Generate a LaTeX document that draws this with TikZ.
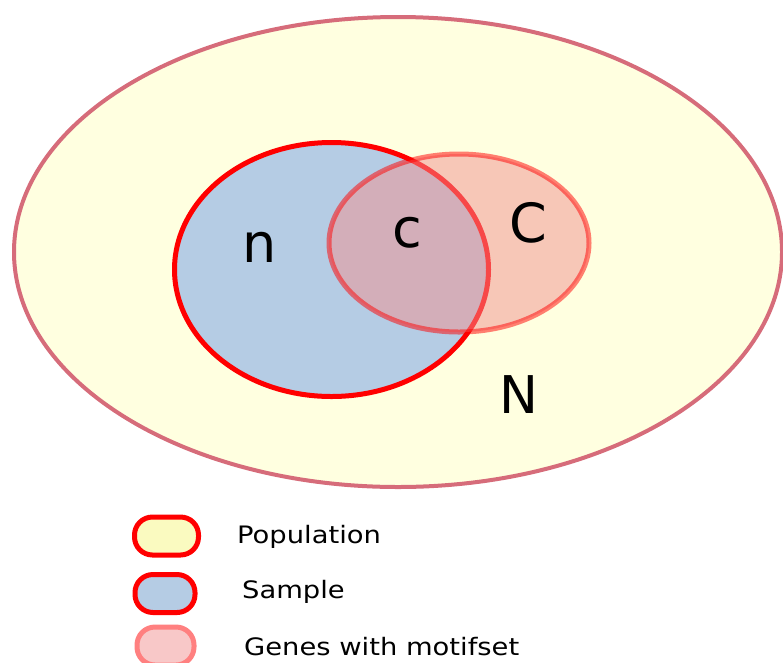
\documentclass[tikz,border=0pt]{standalone}
\usepackage{fontspec}
\setmainfont{DejaVu Sans}
\newfontfamily\widesans[FakeStretch=1.14]{DejaVu Sans}
\definecolor{popfill}{RGB}{255,255,224}
\definecolor{popedge}{RGB}{214,108,122}
\definecolor{popswatch}{RGB}{250,250,192}
\definecolor{samplefill}{RGB}{181,204,228}
\definecolor{motiffill}{RGB}{241,145,144}
\definecolor{motifswatch}{RGB}{248,200,200}
\definecolor{motifedge}{RGB}{255,128,128}
\tikzset{
  setlabel/.style={font=\fontsize{54}{60}\selectfont, anchor=base, inner sep=0pt},
  legendtext/.style={font=\widesans\fontsize{24}{28}\selectfont, anchor=base west, inner sep=0pt},
  swatch/.style={rounded corners=18pt, line width=5pt, minimum width=62pt, minimum height=38pt, inner sep=0pt},
}
\begin{document}
\begin{tikzpicture}[x=1pt, y=-1pt]
\useasboundingbox (0,0) rectangle (783,662);
% population
\filldraw[fill=popfill, draw=popedge, line width=4pt] (398,252) ellipse [x radius=384, y radius=235];
% sample
\filldraw[fill=samplefill, draw=red, line width=5pt] (331.5,269.5) ellipse [x radius=157, y radius=127];
% genes with motifset, semi-transparent over the sample
\filldraw[fill=motiffill, draw=red, line width=5pt, fill opacity=0.5, draw opacity=0.5] (459,243) ellipse [x radius=130, y radius=89];
% set labels
\node[setlabel] (lbln) at (260,262) {n};
\node[setlabel] (lblc) at (407,247) {c};
\node[setlabel] (lblC) at (528,242) {C};
\node[setlabel, font=\fontsize{52}{58}\selectfont] (lblN) at (519,413) {N};
% legend
\node[swatch, fill=popswatch, draw=red, minimum width=64pt] (swpop) at (166.5,536) {};
\node[swatch, fill=samplefill, draw=red, minimum width=60pt, minimum height=38pt] (swsample) at (165,593.5) {};
\node[swatch, fill=motifswatch, draw=motifedge, minimum width=57pt] (swmotif) at (165.5,646) {};
\node[legendtext] (txpop) at (237,543) {Population};
\node[legendtext] (txsample) at (242,598) {Sample};
\node[legendtext] (txmotif) at (244,655) {Genes with motifset};
\end{tikzpicture}
\end{document}
